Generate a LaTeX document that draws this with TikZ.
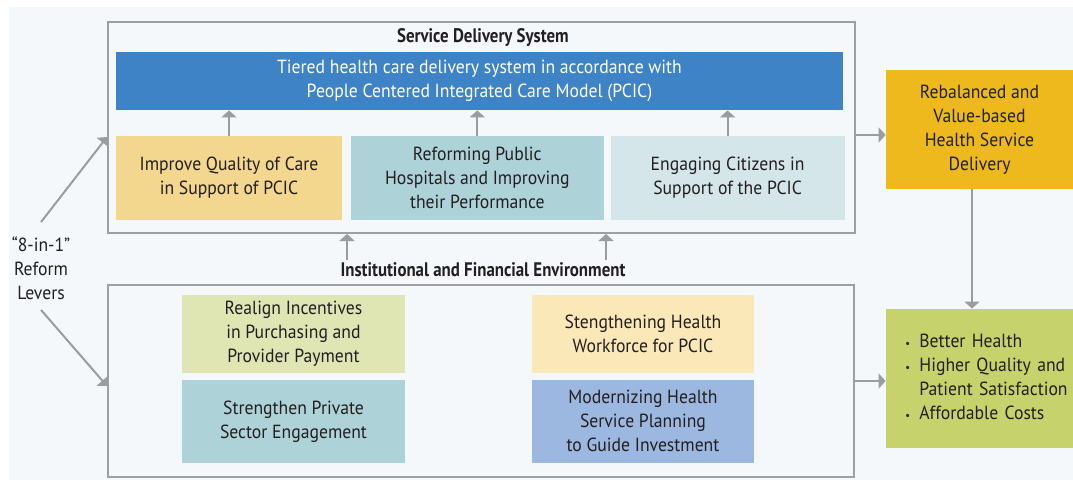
\documentclass[tikz,border=0pt]{standalone}
\usepackage{fontspec}
\setmainfont[FakeStretch=0.93]{PT Sans}
\newfontfamily\condbf[FakeStretch=0.86]{PT Sans}
\usepackage{tikz}
\usetikzlibrary{positioning}
\usetikzlibrary{arrows.meta}
\definecolor{bgcol}{HTML}{F4F8FA}
\definecolor{framegray}{HTML}{9D9FA2}
\definecolor{arrowgray}{HTML}{9A9C9F}
\definecolor{ink}{HTML}{231F20}
\definecolor{barblue}{HTML}{3D83C5}
\definecolor{sand}{HTML}{F4D78E}
\definecolor{hospteal}{HTML}{ADD3D8}
\definecolor{paleteal}{HTML}{D4E6EA}
\definecolor{olivepale}{HTML}{DFE6B4}
\definecolor{cream}{HTML}{FAE8B8}
\definecolor{periwinkle}{HTML}{9DB8E0}
\definecolor{gold}{HTML}{EDB91D}
\definecolor{leafgreen}{HTML}{C6D36C}
\tikzstyle{frame} = [rectangle, draw=framegray, line width=1pt]
\tikzstyle{heading} = [font=\condbf\bfseries\fontsize{9.8}{11}\selectfont]
\tikzstyle{bluebar} = [rectangle, fill=barblue, text=white, text centered, align=center, inner sep=0pt]
\tikzstyle{lever} = [rectangle, minimum height=42pt, text centered, align=center, inner sep=0pt]
\tikzstyle{result} = [rectangle, minimum width=93.5pt, text centered, align=center, inner sep=0pt]
\tikzstyle{arrow} = [line width=1pt, draw=arrowgray, -{Triangle[width=7.5pt,length=3.5pt]}]
\newcommand{\bul}{\makebox[7pt][l]{\scalebox{0.6}{\textbullet}}}

\begin{document}
\begin{tikzpicture}[x=0.5pt, y=-0.5pt, font=\fontsize{9.5}{12}\selectfont, text=ink]
        \useasboundingbox (0,0) rectangle (1073,482);
        \fill [bgcol] (9,7) rectangle (1073,480);

        % service delivery system
        \node (sds) [frame, minimum width=373.5pt, minimum height=105.5pt] at (481.5,127.5) {};
        \node (sdsTitle) [heading] at (483,38) {Service Delivery System};
        \node (tiered) [bluebar, minimum width=363.5pt, minimum height=29pt] at (479.5,81) {Tiered health care delivery system in accordance with\\People Centered Integrated Care Model (PCIC)};
        \node (quality) [lever, fill=sand, minimum width=113pt] at (229,178) {Improve Quality of Care\\in Support of PCIC};
        \node (hospitals) [lever, fill=hospteal, minimum width=126.5pt, right=4pt of quality] {Reforming Public\\Hospitals and Improving\\their Performance};
        \node (citizens) [lever, fill=paleteal, minimum width=117pt, right=3pt of hospitals] {Engaging Citizens in\\Support of the PCIC};

        % institutional and financial environment
        \node (ife) [frame, minimum width=373pt, minimum height=96pt] at (481,381) {};
        \node (ifeTitle) [heading] at (483,270) {Institutional and Financial Environment};
        \node (incentives) [lever, fill=olivepale, minimum width=111.5pt, minimum height=39pt] at (293.5,334) {Realign Incentives\\in Purchasing and\\Provider Payment};
        \node (private) [lever, fill=hospteal, minimum width=111.5pt, minimum height=41.5pt, below=3pt of incentives] {Strengthen Private\\Sector Engagement};
        \node (workforce) [lever, fill=cream, minimum width=111pt, minimum height=39pt] at (643,334) {Stengthening Health\\Workforce for PCIC};
        \node (planning) [lever, fill=periwinkle, minimum width=111pt, minimum height=41.5pt, below=3pt of workforce] {Modernizing Health\\Service Planning\\to Guide Investment};

        % results
        \node (rebal) [result, fill=gold, minimum height=59.5pt] at (979.5,129.5) {Rebalanced and\\Value-based\\Health Service\\Delivery};
        \node (outcome) [result, fill=leafgreen, minimum height=69.5pt] at (979.5,378.5) {};
        \node (outcomeText) [text width=84pt, align=left, inner sep=0pt, anchor=west] at (905,376.5) {\bul Better Health\\\bul Higher Quality and\\\hspace*{7pt}Patient Satisfaction\\\bul Affordable Costs};
        \node (levers) [align=center, inner sep=0pt] at (41,268) {“8-in-1”\\Reform\\Levers};

        \coordinate (ifeUpA) at (347,260);
        \coordinate (ifeUpB) at (606,260);

        \draw [arrow] (quality) -- (tiered.south -| quality);
        \draw [arrow] (hospitals) -- (tiered.south -| hospitals);
        \draw [arrow] (citizens) -- (tiered.south -| citizens);
        \draw [arrow] (ifeUpA) -- (ifeUpA |- sds.south);
        \draw [arrow] (ifeUpB) -- (ifeUpB |- sds.south);
        \draw [arrow] ([yshift=-3.75pt]sds.east) -- ([yshift=-3.75pt]sds.east -| rebal.west);
        \draw [arrow] (ife.east) -- (ife.east -| outcome.west);
        \draw [arrow] ([xshift=-3.75pt]rebal.south) -- ([xshift=-3.75pt]rebal.south |- outcome.north);
        \draw [arrow] ([yshift=7pt]levers.north) -- ([yshift=-4.75pt]sds.west);
        \draw [arrow] ([yshift=-5pt]levers.south) -- ([yshift=-2.5pt]ife.west);
    \end{tikzpicture}
\end{document}
